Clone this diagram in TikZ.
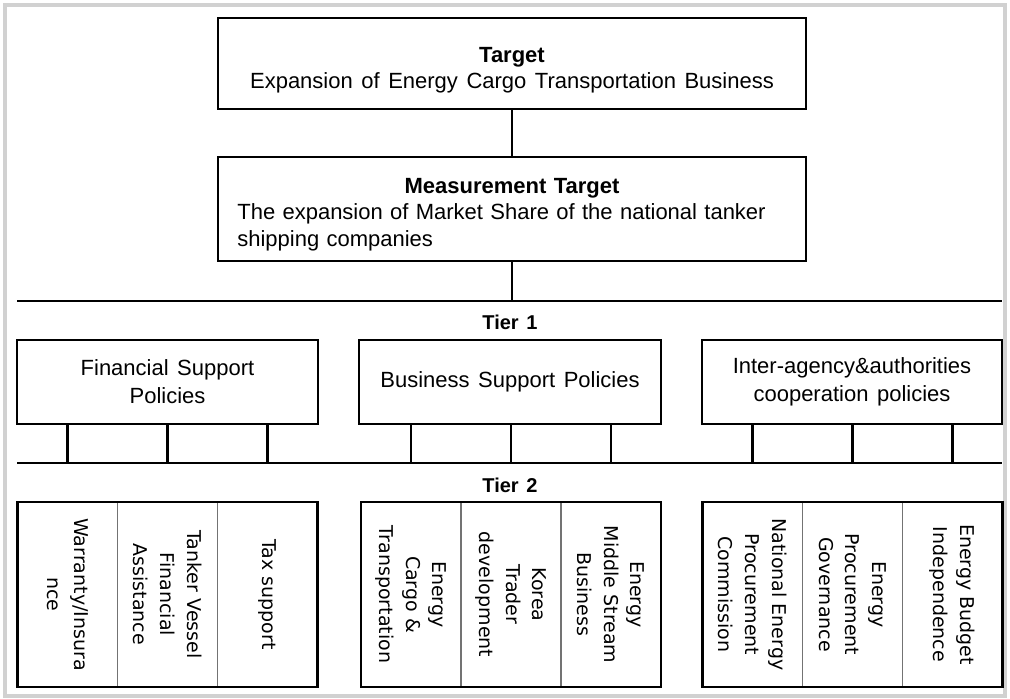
\documentclass[tikz,border=0pt]{standalone}
\usepackage{fontspec}
\setmainfont{Liberation Sans}[WordSpace=1.4]
\newfontfamily\colfont{DejaVu Sans}

\begin{document}
\begin{tikzpicture}[x=0.75pt, y=-0.75pt,
		box/.style={draw, line width=2.2pt, inner sep=0pt, outer sep=0pt, align=center},
		cell/.style={draw=black!55, line width=0.8pt, rotate=-90, minimum width=138.75pt, minimum height=75pt,
			inner sep=0pt, outer sep=0pt, align=center, font=\colfont\fontsize{14.25}{20}\selectfont},
		link/.style={line width=2pt},
		tier/.style={font=\bfseries\fontsize{15}{18}\selectfont}]
			% Page frame
			\useasboundingbox (0,0) rectangle (1010,699);
			\draw[black!18, line width=3pt] (5,5) rectangle (1005,696);

			% Draw the goal boxes
			\node[box, minimum width=441pt, minimum height=68.25pt, font=\fontsize{16.5}{19.5}\selectfont] (target) at (512,63.5)
				{\rule{0pt}{22pt}\textbf{Target}\\Expansion of Energy Cargo Transportation Business};
			\node[box, minimum width=441pt, minimum height=78pt, align=left, text width=412pt,
				font=\fontsize{16.5}{20}\selectfont] (meas) at (512,209)
				{\makebox[\linewidth]{\rule{0pt}{19.5pt}\textbf{Measurement Target}}\\The expansion of Market Share of the national tanker\\shipping companies};
			\draw[link] (target) -- (meas);

			% Tier 1
			\coordinate (t1l) at (17,301);
			\coordinate (t1r) at (1002,301);
			\draw[link] (meas.south) -- (meas.south |- t1l);
			\draw[line width=2.2pt] (t1l) -- (t1r);
			\node[tier] (tierone) at (510,322) {Tier 1};

			\node[box, minimum width=225.75pt, minimum height=63pt, font=\fontsize{16.5}{21}\selectfont] (fin) at (167.5,382)
				{Financial Support\\Policies};
			\node[box, minimum width=226.5pt, minimum height=63pt, font=\fontsize{16.5}{21}\selectfont] (bus) at (510,382)
				{Business Support Policies};
			\node[box, minimum width=225pt, minimum height=63pt, font=\fontsize{16.5}{21}\selectfont] (coop) at (852,382)
				{Inter-agency\&authorities\\cooperation policies};

			% Tier 2
			\coordinate (t2l) at (17,463);
			\coordinate (t2r) at (1002,463);
			\node[tier] (tiertwo) at (510,485) {Tier 2};

			\node[cell] (a1) at (67.5,594.5) {Warranty/Insura\\nce};
			\node[cell] (a2) at (167.5,594.5) {Tanker Vessel\\Financial\\Assistance};
			\node[cell] (a3) at (267.5,594.5) {Tax support};
			\node[cell] (b1) at (411,594.5) {Energy\\Cargo \&\\Transportation};
			\node[cell] (b2) at (511,594.5) {Korea\\Trader\\development};
			\node[cell] (b3) at (611,594.5) {Energy\\Middle Stream\\Business};
			\node[cell] (c1) at (752.5,594.5) {National Energy\\Procurement\\Commission};
			\node[cell] (c2) at (852.5,594.5) {Energy\\Procurement\\Governance};
			\node[cell] (c3) at (952.5,594.5) {Energy Budget\\Independence};

			% outlines round each group of columns
			\node[box, minimum width=225pt, minimum height=138.75pt] (fingroup) at (167.5,594.5) {};
			\node[box, minimum width=225pt, minimum height=138.75pt] (busgroup) at (511,594.5) {};
			\node[box, minimum width=225pt, minimum height=138.75pt] (coopgroup) at (852.5,594.5) {};

			% Legs down to the tier 2 rule
			\foreach \p/\c in {fin/a1, fin/a2, fin/a3, bus/b1, bus/b2, bus/b3, coop/c1, coop/c2, coop/c3}
				\draw[link] (\p.south -| \c.center) -- (\c.center |- t2l);
			\draw[line width=2.2pt] (t2l) -- (t2r);
		\end{tikzpicture}
\end{document}
